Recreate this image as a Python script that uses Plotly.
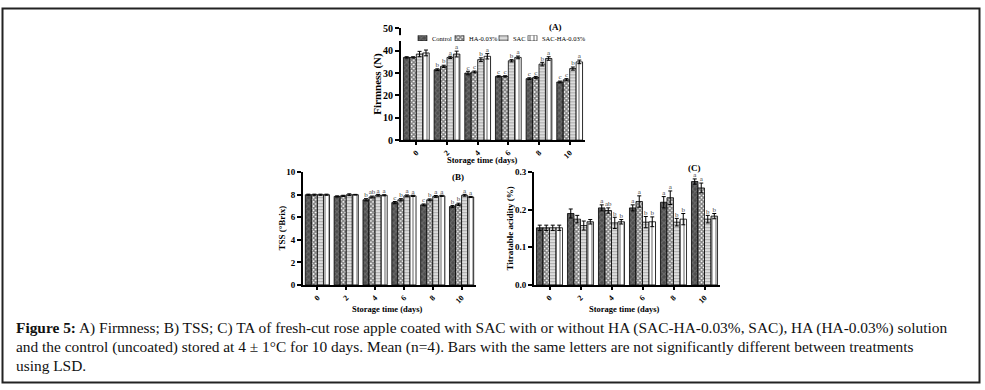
import plotly.graph_objects as go

W, H = 985, 390
days = ["0", "2", "4", "6", "8", "10"]
treatments = ["Control", "HA-0.03%", "SAC", "SAC-HA-0.03%"]

# Firmness (N)
firm_control = [37.0, 31.5, 30.0, 28.5, 27.5, 26.0]
firm_ha = [37.0, 33.0, 30.5, 28.5, 28.0, 27.0]
firm_sac = [38.5, 37.0, 36.0, 35.5, 34.0, 32.0]
firm_sacha = [39.0, 38.5, 37.5, 37.0, 36.5, 35.0]
firm_err_control = [0.3, 0.4, 0.8, 0.3, 0.4, 0.4]
firm_err_ha = [0.3, 0.5, 0.4, 0.3, 0.5, 0.5]
firm_err_sac = [1.2, 0.5, 0.8, 0.5, 0.8, 0.7]
firm_err_sacha = [1.3, 1.3, 1.2, 0.6, 0.8, 0.8]
firm_let_control = ["", "b", "c", "c", "c", "c"]
firm_let_ha = ["", "b", "c", "c", "c", "c"]
firm_let_sac = ["", "a", "b", "b", "b", "b"]
firm_let_sacha = ["", "a", "a", "a", "a", "a"]

# TSS (°Brix)
tss_control = [8.0, 7.85, 7.55, 7.3, 7.1, 6.95]
tss_ha = [8.0, 7.9, 7.8, 7.55, 7.55, 7.15]
tss_sac = [8.0, 8.0, 7.95, 7.9, 7.85, 7.95]
tss_sacha = [8.0, 8.0, 7.95, 7.9, 7.9, 7.8]
tss_err_control = [0.05, 0.05, 0.1, 0.1, 0.08, 0.1]
tss_err_ha = [0.05, 0.05, 0.08, 0.1, 0.08, 0.1]
tss_err_sac = [0.05, 0.08, 0.08, 0.08, 0.08, 0.08]
tss_err_sacha = [0.05, 0.03, 0.05, 0.05, 0.05, 0.05]
tss_let_control = ["", "", "b", "c", "c", "b"]
tss_let_ha = ["", "", "ab", "b", "b", "b"]
tss_let_sac = ["", "", "a", "a", "a", "a"]
tss_let_sacha = ["", "", "a", "a", "a", "a"]

# Titratable acidity (%)
ta_control = [0.152, 0.190, 0.205, 0.205, 0.220, 0.275]
ta_ha = [0.152, 0.175, 0.198, 0.222, 0.232, 0.258]
ta_sac = [0.152, 0.158, 0.165, 0.167, 0.167, 0.175]
ta_sacha = [0.152, 0.168, 0.168, 0.168, 0.175, 0.183]
ta_err_control = [0.007, 0.012, 0.008, 0.008, 0.015, 0.007]
ta_err_ha = [0.007, 0.010, 0.007, 0.015, 0.018, 0.013]
ta_err_sac = [0.007, 0.012, 0.015, 0.015, 0.010, 0.010]
ta_err_sacha = [0.007, 0.006, 0.006, 0.013, 0.015, 0.007]
ta_let_control = ["", "", "a", "a", "a", "a"]
ta_let_ha = ["", "", "ab", "a", "a", "a"]
ta_let_sac = ["", "", "b", "b", "b", "b"]
ta_let_sacha = ["", "", "b", "b", "b", "b"]

patterns = [
    dict(shape="x", fgcolor="#8c8c8c", bgcolor="#4d4d4d", size=4, solidity=0.45),
    dict(shape="x", fgcolor="#000000", bgcolor="#ffffff", size=3, solidity=0.7),
    dict(shape="-", fgcolor="#555555", bgcolor="#ffffff", size=3, solidity=0.6),
    dict(shape="|", fgcolor="#000000", bgcolor="#ffffff", size=4, solidity=0.3),
]

SERIF = "Liberation Serif"
fig = go.Figure()

panels = [
    ("x", "y", [firm_control, firm_ha, firm_sac, firm_sacha],
     [firm_err_control, firm_err_ha, firm_err_sac, firm_err_sacha],
     [firm_let_control, firm_let_ha, firm_let_sac, firm_let_sacha]),
    ("x2", "y2", [tss_control, tss_ha, tss_sac, tss_sacha],
     [tss_err_control, tss_err_ha, tss_err_sac, tss_err_sacha],
     [tss_let_control, tss_let_ha, tss_let_sac, tss_let_sacha]),
    ("x3", "y3", [ta_control, ta_ha, ta_sac, ta_sacha],
     [ta_err_control, ta_err_ha, ta_err_sac, ta_err_sacha],
     [ta_let_control, ta_let_ha, ta_let_sac, ta_let_sacha]),
]

for xa, ya, vals, errs, lets in panels:
    for i, name in enumerate(treatments):
        fig.add_trace(go.Bar(
            x=days, y=vals[i], name=name, xaxis=xa, yaxis=ya,
            offsetgroup=str(i), showlegend=False,
            marker=dict(color=patterns[i]["bgcolor"], pattern=patterns[i],
                        line=dict(color="black", width=0.8)),
            error_y=dict(type="data", array=errs[i], color="black",
                         thickness=1, width=2),
        ))
        tops = [v + e if l else None for v, e, l in zip(vals[i], errs[i], lets[i])]
        fig.add_trace(go.Scatter(
            x=days, y=tops, mode="text", text=lets[i], textposition="top center",
            textfont=dict(family=SERIF, size=7, color="#444"),
            xaxis=xa, yaxis=ya, offsetgroup=str(i), showlegend=False,
            hoverinfo="skip", cliponaxis=False,
        ))

# compact legend for panel A (swatches drawn on a hidden helper axis)
LEG_SWATCH_PX = [422.5, 459.5, 503.5, 532.5]   # swatch centres (layout, px)
LEG_TEXT_PX = [430, 467, 511, 540]             # label left edges (layout, px)
for i, name in enumerate(treatments):
    fig.add_trace(go.Bar(
        x=[LEG_SWATCH_PX[i]], y=[1], width=[9], xaxis="x4", yaxis="y4",
        offsetgroup="legend", showlegend=False, hoverinfo="skip",
        marker=dict(color=patterns[i]["bgcolor"], pattern=patterns[i],
                    line=dict(color="black", width=0.6)),
    ))

def px_x(a, b):
    return [a / W, b / W]

def px_y(top, bottom):
    return [1 - bottom / H, 1 - top / H]

bold9 = dict(family=SERIF, size=9, color="black", weight="bold")
common_x = dict(type="category", showline=True, linewidth=2, linecolor="black",
                ticks="outside", ticklen=3, tickwidth=1.5, tickcolor="black",
                tickangle=-45, tickfont=dict(bold9, size=8),
                showgrid=False, zeroline=False, range=[-0.5, 5.5], fixedrange=True)
common_y = dict(showline=True, linewidth=2, linecolor="black", ticks="outside",
                ticklen=4, tickwidth=1.5, tickcolor="black", tickfont=bold9,
                showgrid=False, zeroline=False)

fig.update_layout(
    width=W, height=H, margin=dict(l=0, r=0, t=0, b=0),
    paper_bgcolor="white", plot_bgcolor="white",
    barmode="group", bargap=0.16, bargroupgap=0.0,
    scattermode="group", scattergap=0.16,
    font=dict(family=SERIF, color="black"),
    showlegend=False,
    xaxis=dict(common_x, domain=px_x(401, 585), anchor="y"),
    yaxis=dict(common_y, domain=px_y(23, 138), anchor="x", range=[0, 50], dtick=10,
               tickfont=dict(bold9, size=10)),
    xaxis2=dict(common_x, domain=px_x(303, 476), anchor="y2"),
    yaxis2=dict(common_y, domain=px_y(171, 287), anchor="x2", range=[0, 10], dtick=2),
    xaxis3=dict(common_x, domain=px_x(534, 720), anchor="y3"),
    yaxis3=dict(common_y, domain=px_y(171, 287), anchor="x3", range=[0, 0.3], dtick=0.1,
                tickformat=".1f"),
    xaxis4=dict(domain=[0, 1], range=[0, W], visible=False, fixedrange=True,
                anchor="y4"),
    yaxis4=dict(domain=px_y(30, 36), range=[0, 1], visible=False, fixedrange=True,
                anchor="x4"),
)

for i, name in enumerate(treatments):
    fig.add_annotation(xref="paper", yref="paper", x=LEG_TEXT_PX[i] / W, y=1 - 33 / H,
                       xanchor="left", yanchor="middle", showarrow=False, text=name,
                       font=dict(family=SERIF, size=6.5, color="black"))

annotations = [
    dict(text="<b>(A)</b>", x=555 / W, y=1 - 22 / H, size=9),
    dict(text="<b>(B)</b>", x=458 / W, y=1 - 176 / H, size=9),
    dict(text="<b>(C)</b>", x=694 / W, y=1 - 167 / H, size=9),
    dict(text="<b>Storage time (days)</b>", x=482 / W, y=1 - 158 / H, size=8.5),
    dict(text="<b>Storage time (days)</b>", x=387 / W, y=1 - 312 / H, size=8.5),
    dict(text="<b>Storage time (days)</b>", x=624 / W, y=1 - 312 / H, size=8.5),
    dict(text="<b>Firmness (N)</b>", x=378 / W, y=1 - 80 / H, size=11, angle=-90),
    dict(text="<b>TSS (°Brix)</b>", x=282 / W, y=1 - 229 / H, size=9, angle=-90),
    dict(text="<b>Titratable acidity (%)</b>", x=510 / W, y=1 - 229 / H, size=9, angle=-90),
]
for a in annotations:
    fig.add_annotation(xref="paper", yref="paper", showarrow=False,
                       xanchor="center", yanchor="middle", text=a["text"],
                       x=a["x"], y=a["y"], textangle=a.get("angle", 0),
                       font=dict(family=SERIF, size=a["size"], color="black"))

caption_lines = [
    "<b>Figure 5:</b> A) Firmness; B) TSS; C) TA of fresh-cut rose apple coated with SAC with or without HA (SAC-HA-0.03%, SAC), HA (HA-0.03%) solution",
    "and the control (uncoated) stored at 4 ± 1°C for 10 days. Mean (n=4). Bars with the same letters are not significantly different between treatments",
    "using LSD.",
]
cap_y = [331, 351, 370]
for line, yy in zip(caption_lines, cap_y):
    fig.add_annotation(xref="paper", yref="paper", x=14 / W, y=1 - yy / H,
                       xanchor="left", yanchor="middle", showarrow=False, align="left",
                       text=line, font=dict(family=SERIF, size=15.4, color="#111"))

fig.add_shape(type="rect", xref="paper", yref="paper",
              x0=2.5 / W, x1=979.5 / W, y0=1 - 387.5 / H, y1=1 - 2.5 / H,
              line=dict(color="#222", width=2), fillcolor="rgba(0,0,0,0)")

fig.write_html("out.html", config={"displayModeBar": False},
               post_script="document.body.style.margin='0';")
